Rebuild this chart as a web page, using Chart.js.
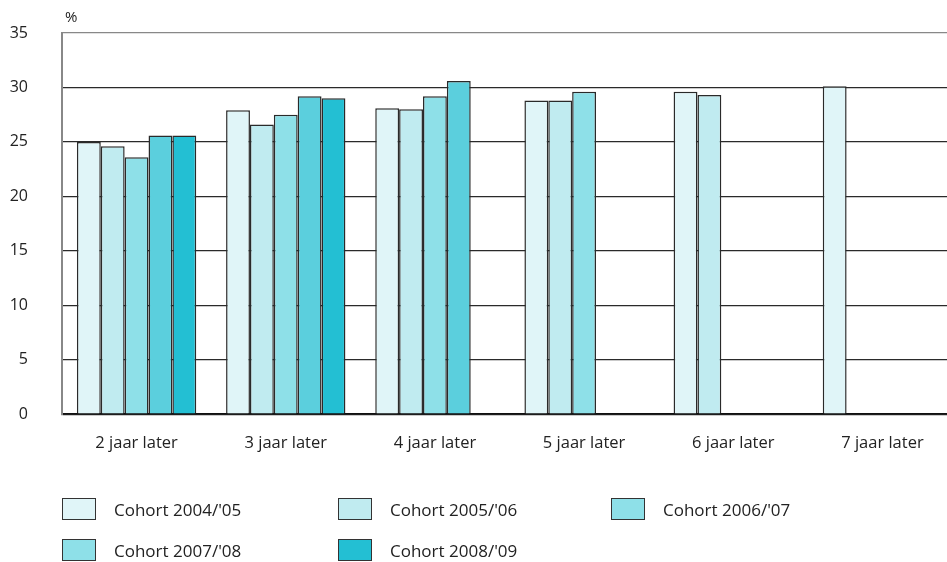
<!DOCTYPE html>
<html>
<head>
<meta charset="utf-8">
<script src="https://cdn.jsdelivr.net/npm/chart.js@4/dist/chart.umd.min.js"></script>
<style>
  html, body { margin: 0; padding: 0; background: #fff; overflow: hidden; }
  #wrap { position: relative; width: 957px; height: 562px; }
  #legend { position: absolute; left: 62px; top: 497px; width: 880px;
    display: grid; grid-template-columns: 276px 273px 260px; row-gap: 17px;
    font-family: 'Open Sans', sans-serif; font-size: 17px; color: #222; }
  #legend .item { display: flex; align-items: center; height: 24px; }
  #legend .box { width: 34px; height: 22px; box-sizing: border-box;
    border: 1px solid #333; margin-right: 18px; }
</style>
</head>
<body>
<div id="wrap">
  <canvas id="chart" width="957" height="562"></canvas>
  <div id="legend"></div>
</div>
<script>
// Categories and series
const categories = ['2 jaar later', '3 jaar later', '4 jaar later', '5 jaar later', '6 jaar later', '7 jaar later'];
const cohortLabels = ["Cohort 2004/'05", "Cohort 2005/'06", "Cohort 2006/'07", "Cohort 2007/'08", "Cohort 2008/'09"];

const cohort2004 = [25.0, 27.9, 28.1, 28.8, 29.6, 30.1];
const cohort2005 = [24.6, 26.6, 28.0, 28.8, 29.3, null];
const cohort2006 = [23.6, 27.5, 29.2, 29.6, null, null];
const cohort2007 = [25.6, 29.2, 30.6, null, null, null];
const cohort2008 = [25.6, 29.0, null, null, null, null];

const barColors = ['#e0f5f8', '#c0ebf0', '#8ee0e8', '#5bcfdd', '#23bfd3'];
// the printed legend shows the 2007/'08 swatch in the 2006/'07 tint
const legendColors = ['#e0f5f8', '#c0ebf0', '#8ee0e8', '#8ee0e8', '#23bfd3'];

const yTicks = [0, 5, 10, 15, 20, 25, 30, 35];

const seriesValues = [cohort2004, cohort2005, cohort2006, cohort2007, cohort2008];

const datasets = seriesValues.map((vals, i) => ({
  label: cohortLabels[i],
  data: vals,
  backgroundColor: barColors[i],
  borderColor: '#2a2a2a',
  borderWidth: 1.5,
  borderSkipped: 'bottom',
  categoryPercentage: 0.8,
  barPercentage: 1.0
}));

const fontFamily = "'Open Sans', sans-serif";

// Draws the "%" unit above the y axis
const unitLabel = {
  id: 'unitLabel',
  afterDraw(chart) {
    const ctx = chart.ctx;
    const area = chart.chartArea;
    ctx.save();
    ctx.font = '15px ' + fontFamily;
    ctx.fillStyle = '#222';
    ctx.textAlign = 'left';
    ctx.textBaseline = 'alphabetic';
    ctx.fillText('%', area.left + 3, area.top - 11);
    ctx.restore();
  }
};

new Chart(document.getElementById('chart'), {
  type: 'bar',
  data: { labels: categories, datasets: datasets },
  plugins: [unitLabel],
  options: {
    responsive: false,
    animation: false,
    layout: { padding: { top: 33, left: 0, right: 0, bottom: 90 } },
    plugins: {
      legend: { display: false },
      tooltip: { enabled: false }
    },
    scales: {
      x: {
        grid: { display: false, drawTicks: false },
        border: { color: '#111', width: 1.5 },
        ticks: {
          color: '#222',
          padding: 19,
          maxRotation: 0,
          font: { family: fontFamily, size: 16.5 }
        }
      },
      y: {
        min: 0,
        max: 35,
        afterBuildTicks(scale) { scale.ticks = yTicks.map(v => ({ value: v })); },
        afterFit(scale) {
          scale.width = 62;
          // tick padding is only meant to push labels left, not down
          scale.paddingTop = 0;
          scale.paddingBottom = 0;
        },
        grid: {
          drawTicks: false,
          lineWidth: 1.2,
          color: ctx => (ctx.tick && ctx.tick.value === 35 ? '#888' : '#2a2a2a')
        },
        border: { color: '#888', width: 2 },
        ticks: {
          color: '#222',
          padding: 34,
          font: { family: fontFamily, size: 16 }
        }
      }
    }
  }
});

// Legend in three columns, as in the printed figure
const legend = document.getElementById('legend');
cohortLabels.forEach((label, i) => {
  const item = document.createElement('div');
  item.className = 'item';
  const box = document.createElement('span');
  box.className = 'box';
  box.style.background = legendColors[i];
  const text = document.createElement('span');
  text.textContent = label;
  item.appendChild(box);
  item.appendChild(text);
  legend.appendChild(item);
});
</script>
</body>
</html>
